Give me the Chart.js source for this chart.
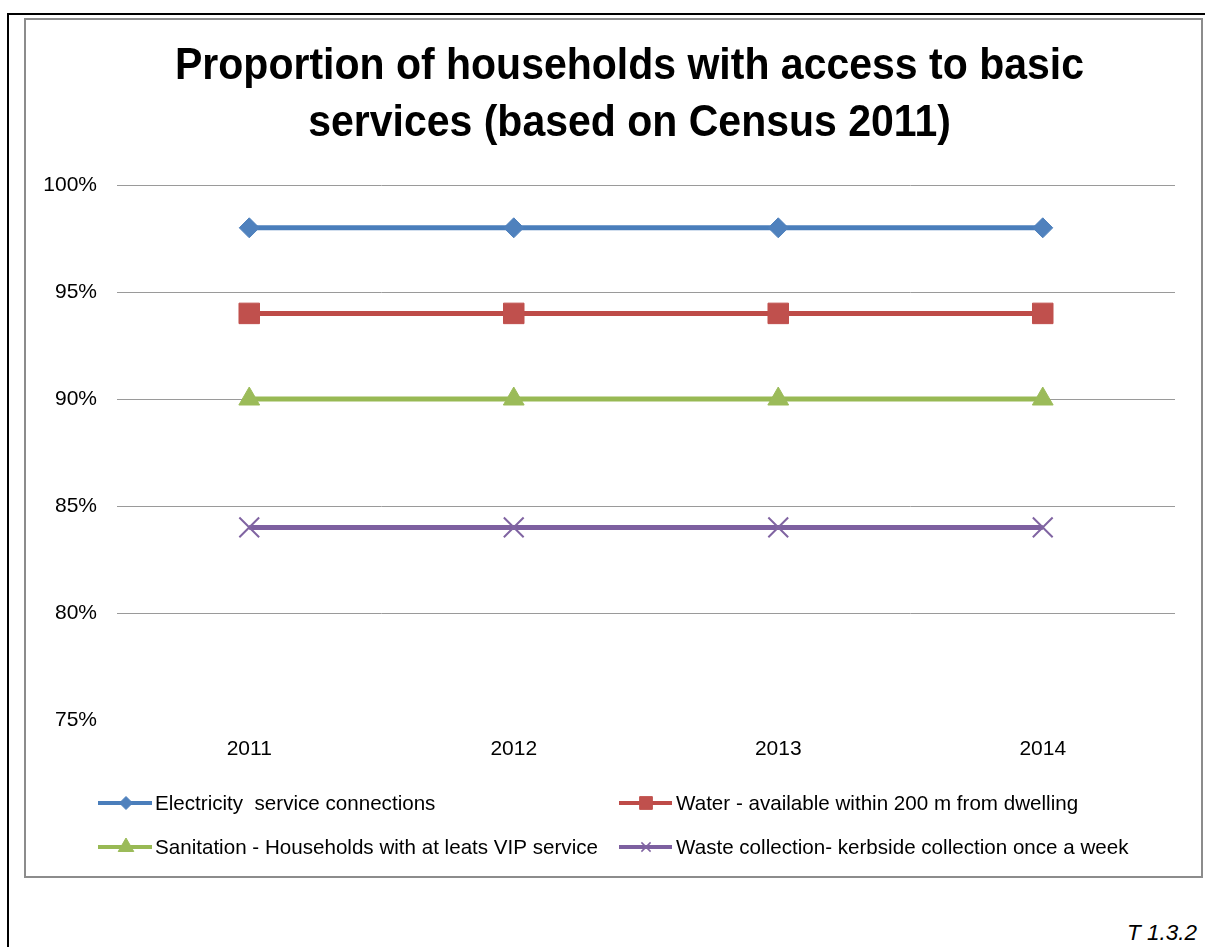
<!DOCTYPE html>
<html>
<head>
<meta charset="utf-8">
<title>Proportion of households with access to basic services</title>
<script src="https://cdn.jsdelivr.net/npm/chart.js@4.4.1/dist/chart.umd.min.js"></script>
<style>
  html, body { margin: 0; padding: 0; background: #fff; }
  body { width: 1205px; height: 947px; position: relative; overflow: hidden; font-family: "Liberation Sans", Arial, sans-serif; }
  .page-frame { position: absolute; left: 7px; top: 13px; width: 1198px; height: 934px; border-left: 2px solid #000; border-top: 2px solid #000; box-sizing: border-box; }
  .chart-box { position: absolute; left: 24px; top: 18px; width: 1179px; height: 860px; border: 2px solid #8c8c8c; box-sizing: border-box; }
  #chart { position: absolute; left: 26px; top: 20px; }
  .tag { position: absolute; left: 1127px; top: 921px; font-size: 22.5px; line-height: 24px; font-style: italic; color: #000; }
</style>
</head>
<body>
<div class="page-frame"></div>
<div class="chart-box"></div>
<canvas id="chart" width="1175" height="856"></canvas>
<div class="tag">T 1.3.2</div>

<script>
// Census 2011 based access to services, per year
const years = ['2011', '2012', '2013', '2014'];
const electricity = [98, 98, 98, 98];
const water = [94, 94, 94, 94];
const sanitation = [90, 90, 90, 90];
const waste = [84, 84, 84, 84];

const seriesNames = [
  'Electricity  service connections',
  'Water - available within 200 m from dwelling',
  'Sanitation - Households with at leats VIP service',
  'Waste collection- kerbside collection once a week'
];
const titleLines = [
  'Proportion of households with access to basic',
  'services (based on Census 2011)'
];
const yTicks = [75, 80, 85, 90, 95, 100];

const FONT = '"Liberation Sans", Arial, sans-serif';

// title + two column legend, drawn straight on the canvas
const chartText = {
  id: 'chartText',
  afterDraw(chart) {
    const ctx = chart.ctx;
    ctx.save();
    ctx.fillStyle = '#000';
    ctx.font = 'bold 41px ' + FONT;
    ctx.textAlign = 'center';
    ctx.textBaseline = 'alphabetic';
    titleLines.forEach((line, i) => {
      ctx.save();
      ctx.translate(603.5, 59 + i * 57);
      ctx.scale(1, 1.1);
      ctx.fillText(line, 0, 0);
      ctx.restore();
    });

    // legend slots: [lineStart, lineEnd, marker, textX, y]
    const slots = [
      [72, 126, 100, 129, 783],
      [593, 646, 620, 650, 783],
      [72, 126, 100, 129, 827],
      [593, 646, 620, 650, 827]
    ];
    const legendSizes = [6.5, 9, 9, 6.5];
    ctx.font = '20.6px ' + FONT;
    ctx.textAlign = 'left';
    ctx.textBaseline = 'middle';
    chart.data.datasets.forEach((ds, i) => {
      const [x0, x1, xm, xt, y] = slots[i];
      ctx.strokeStyle = ds.borderColor;
      ctx.lineWidth = 4;
      ctx.beginPath();
      ctx.moveTo(x0, y);
      ctx.lineTo(x1, y);
      ctx.stroke();
      ctx.fillStyle = ds.pointBackgroundColor;
      ctx.strokeStyle = ds.pointBorderColor;
      ctx.lineWidth = ds.pointStyle === 'crossRot' ? 1.5 : 1;
      Chart.helpers.drawPoint(ctx, {
        pointStyle: ds.pointStyle,
        radius: legendSizes[i],
        rotation: 0,
        borderWidth: ctx.lineWidth
      }, xm, y);
      ctx.fillStyle = '#000';
      ctx.fillText(ds.label, xt, y + 1);
    });
    ctx.restore();
  }
};

new Chart(document.getElementById('chart'), {
  type: 'line',
  data: {
    labels: years,
    datasets: [
      {
        label: seriesNames[0],
        data: electricity,
        borderColor: '#4A7EBB',
        borderWidth: 5,
        pointStyle: 'rectRot',
        pointRadius: 10,
        pointBackgroundColor: '#4F81BD',
        pointBorderColor: '#4F81BD',
        pointBorderWidth: 1
      },
      {
        label: seriesNames[1],
        data: water,
        borderColor: '#BE4B48',
        borderWidth: 5,
        pointStyle: 'rect',
        pointRadius: 14.5,
        pointBackgroundColor: '#C0504D',
        pointBorderColor: '#C0504D',
        pointBorderWidth: 1
      },
      {
        label: seriesNames[2],
        data: sanitation,
        borderColor: '#98B954',
        borderWidth: 5,
        pointStyle: 'triangle',
        pointRadius: 12,
        pointBackgroundColor: '#9BBB59',
        pointBorderColor: '#9BBB59',
        pointBorderWidth: 1
      },
      {
        label: seriesNames[3],
        data: waste,
        borderColor: '#7D60A0',
        borderWidth: 5,
        pointStyle: 'crossRot',
        pointRadius: 14,
        pointBackgroundColor: '#8064A2',
        pointBorderColor: '#8064A2',
        pointBorderWidth: 2
      }
    ]
  },
  options: {
    responsive: false,
    devicePixelRatio: 1,
    animation: false,
    layout: { padding: { top: 165, right: 26, left: 0, bottom: 0 } },
    plugins: {
      legend: { display: false },
      title: { display: false },
      tooltip: { enabled: false }
    },
    scales: {
      x: {
        offset: true,
        border: { display: false },
        grid: { display: false, drawTicks: false },
        ticks: { color: '#000', font: { family: FONT, size: 21 }, padding: 17 },
        afterFit(scale) { scale.height = 156; }
      },
      y: {
        min: 75,
        max: 100,
        border: { display: false },
        grid: {
          drawTicks: false,
          color: (c) => c.tick && c.tick.value === 75 ? 'rgba(0,0,0,0)' : '#9a9a9a',
          lineWidth: 1
        },
        afterBuildTicks(scale) { scale.ticks = yTicks.map(v => ({ value: v })); },
        ticks: {
          color: '#000',
          font: { family: FONT, size: 21 },
          padding: 20,
          callback: (v) => v + '%'
        },
        afterFit(scale) { scale.width = 91; }
      }
    }
  },
  plugins: [chartText]
});
</script>
</body>
</html>
